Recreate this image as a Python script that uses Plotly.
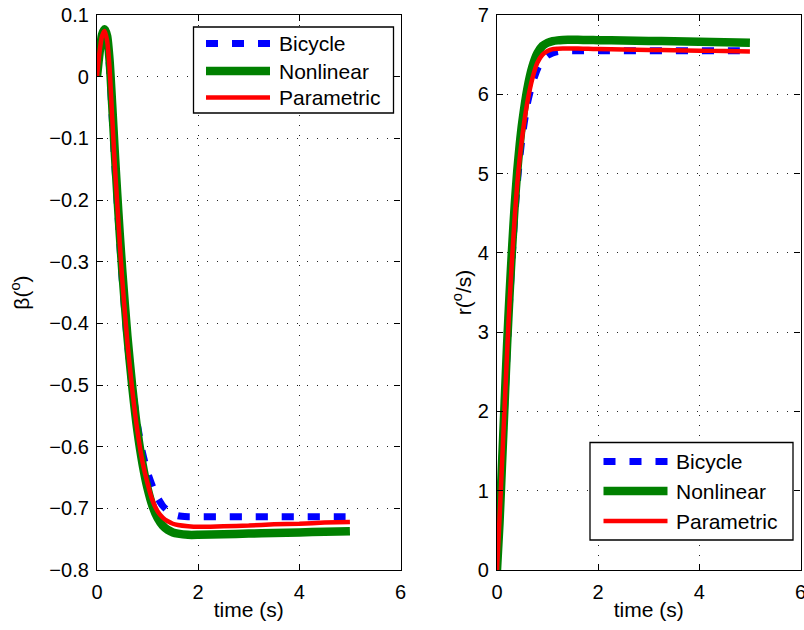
import plotly.graph_objects as go
from plotly.subplots import make_subplots

# ---------------- data ----------------
time_s = [0, 0.05, 0.1, 0.15, 0.2, 0.25, 0.3, 0.35, 0.4, 0.45, 0.5, 0.6, 0.7, 0.8, 0.9,
          1.0, 1.1, 1.2, 1.3, 1.4, 1.5, 1.6, 1.8, 2.0, 2.5, 3.0, 3.5, 4.0, 4.5, 5.0]

beta_bicycle = [0, 0.04, 0.066, 0.074, 0.058, 0.012, -0.065, -0.14, -0.205, -0.27, -0.33,
                -0.43, -0.505, -0.565, -0.61, -0.642, -0.665, -0.683, -0.696, -0.704,
                -0.709, -0.712, -0.7135, -0.7135, -0.7135, -0.7135, -0.7135, -0.7135,
                -0.7135, -0.7135]
beta_nonlinear = [0, 0.038, 0.068, 0.077, 0.066, 0.025, -0.045, -0.12, -0.19, -0.255, -0.315,
                  -0.42, -0.505, -0.575, -0.628, -0.668, -0.697, -0.716, -0.728, -0.735,
                  -0.739, -0.741, -0.743, -0.743, -0.742, -0.741, -0.74, -0.739, -0.738,
                  -0.737]
beta_parametric = [0, 0.04, 0.066, 0.074, 0.058, 0.012, -0.065, -0.14, -0.205, -0.27, -0.33,
                   -0.43, -0.51, -0.575, -0.625, -0.66, -0.688, -0.705, -0.715, -0.721,
                   -0.725, -0.727, -0.729, -0.73, -0.729, -0.728, -0.726, -0.725, -0.723,
                   -0.722]

r_bicycle = [0, 0.65, 1.35, 2.05, 2.75, 3.4, 3.95, 4.45, 4.87, 5.2, 5.47,
             5.88, 6.14, 6.32, 6.43, 6.49, 6.52, 6.54, 6.547, 6.55,
             6.55, 6.55, 6.55, 6.55, 6.55, 6.55, 6.55, 6.55, 6.55, 6.55]
r_nonlinear = [0, 0.6, 1.35, 2.1, 2.85, 3.5, 4.08, 4.6, 5.03, 5.37, 5.65,
               6.07, 6.35, 6.52, 6.61, 6.65, 6.67, 6.68, 6.685, 6.688,
               6.688, 6.687, 6.685, 6.683, 6.678, 6.673, 6.668, 6.662, 6.656, 6.65]
r_parametric = [0, 0.65, 1.35, 2.05, 2.75, 3.4, 3.95, 4.45, 4.87, 5.2, 5.47,
                5.9, 6.2, 6.4, 6.5, 6.545, 6.57, 6.575, 6.578, 6.578,
                6.577, 6.576, 6.573, 6.57, 6.565, 6.56, 6.555, 6.55, 6.545, 6.54]

series_names = ["Bicycle", "Nonlinear", "Parametric"]
x_title = "time (s)"
y_titles = ["β(<sup>o</sup>)", "r(<sup>o</sup>/s)"]

# ---------------- figure ----------------
W, H = 804, 630
fig = make_subplots(rows=1, cols=2)

styles = [
    dict(color="#0000ff", width=7, dash="12px,14px"),
    dict(color="#008000", width=8.5, dash="solid"),
    dict(color="#ff0000", width=4.5, dash="solid"),
]

for name, y, st in zip(series_names, [beta_bicycle, beta_nonlinear, beta_parametric], styles):
    fig.add_trace(go.Scatter(x=time_s, y=y, mode="lines", name=name, showlegend=False,
                             line=dict(shape="spline", smoothing=0.6, **st)), row=1, col=1)
for name, y, st in zip(series_names, [r_bicycle, r_nonlinear, r_parametric], styles):
    fig.add_trace(go.Scatter(x=time_s, y=y, mode="lines", name=name, showlegend=False,
                             line=dict(shape="spline", smoothing=0.6, **st)), row=1, col=2)

FAMILY = "Liberation Sans, Arial, sans-serif"
tick_font = dict(family=FAMILY, size=20, color="black")
title_font = dict(family=FAMILY, size=21, color="black")
legend_font = dict(family=FAMILY, size=21, color="black")

axis_common = dict(
    automargin=False,
    showline=True, linecolor="black", linewidth=1.3, mirror="ticks",
    ticks="inside", ticklen=6, tickcolor="black", tickwidth=1,
    showgrid=True, gridcolor="#222222", gridwidth=1, griddash="1px,9px",
    zeroline=False, tickfont=tick_font,
)

fig.update_xaxes(range=[0, 6], dtick=2, tick0=0, ticklabelstandoff=4,
                 ticklabeloverflow="allow", **axis_common)
fig.update_xaxes(title=dict(text=x_title, font=title_font, standoff=0))
fig.update_yaxes(ticklabelstandoff=3, **axis_common)
fig.update_yaxes(range=[-0.8, 0.1], dtick=0.1, tick0=0,
                 title=dict(text=y_titles[0], font=title_font, standoff=14), row=1, col=1)
fig.update_yaxes(range=[0, 7], dtick=1, tick0=0,
                 title=dict(text=y_titles[1], font=title_font, standoff=0), row=1, col=2)

# ---------------- legends (drawn as boxes in figure coordinates) ----------------
def px_x(v):
    return v / W


def px_y(v):
    return 1 - v / H


legend_specs = [
    dict(box=(193.5, 27, 393.5, 113), sx=(206, 270), rows=(43.5, 71, 97.5), tx=277),
    dict(box=(590, 442.5, 793, 540), sx=(603.5, 667.5), rows=(461.5, 491, 521), tx=674),
]
shapes = []
annotations = []
for spec in legend_specs:
    x0, y0, x1, y1 = spec["box"]
    shapes.append(dict(type="rect", xref="paper", yref="paper",
                       x0=px_x(x0), x1=px_x(x1), y0=px_y(y1), y1=px_y(y0),
                       line=dict(color="black", width=1.3), fillcolor="white", layer="above"))
    for name, st, ry in zip(series_names, styles, spec["rows"]):
        shapes.append(dict(type="line", xref="paper", yref="paper",
                           x0=px_x(spec["sx"][0]), x1=px_x(spec["sx"][1]),
                           y0=px_y(ry), y1=px_y(ry), layer="above",
                           line=dict(color=st["color"], width=st["width"], dash=st["dash"])))
        annotations.append(dict(text=name, xref="paper", yref="paper",
                                x=px_x(spec["tx"]), y=px_y(ry), xanchor="left", yanchor="middle",
                                showarrow=False, font=legend_font))

fig.update_layout(
    template="none",
    width=W, height=H,
    margin=dict(l=0, r=0, t=0, b=0, autoexpand=False),
    paper_bgcolor="white", plot_bgcolor="white",
    font=tick_font,
    xaxis=dict(domain=[97 / W, 400.5 / W]),
    xaxis2=dict(domain=[497 / W, 800.5 / W]),
    yaxis=dict(domain=[1 - 570 / H, 1 - 15 / H]),
    yaxis2=dict(domain=[1 - 570 / H, 1 - 15 / H]),
    shapes=shapes,
    annotations=annotations,
    showlegend=False,
)

fig.write_html("out.html")
